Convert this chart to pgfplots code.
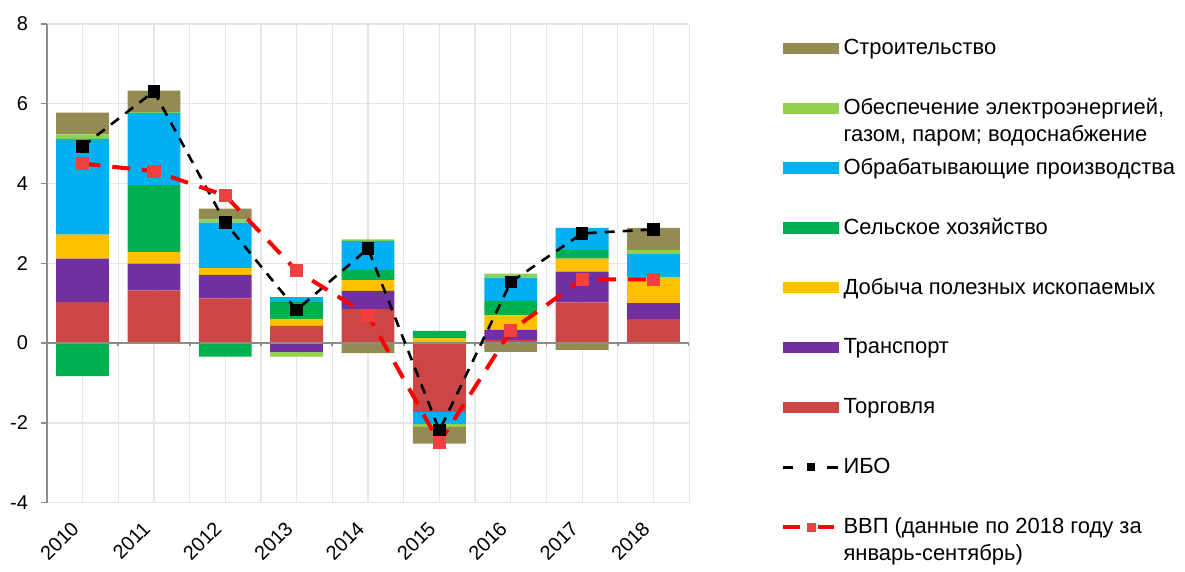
\documentclass[border=0pt]{standalone}
\usepackage{pgfplots}
\pgfplotsset{compat=1.18}
\usepackage{pgfplotstable}
\usepackage{fontspec}
\setmainfont{Liberation Sans}

\definecolor{cTrade}{HTML}{CC4646}
\definecolor{cTrans}{HTML}{7030A0}
\definecolor{cMin}{HTML}{FFC000}
\definecolor{cAgri}{HTML}{00B050}
\definecolor{cMan}{HTML}{00B0F0}
\definecolor{cElec}{HTML}{92D050}
\definecolor{cCon}{HTML}{948A54}
\definecolor{cGrid}{HTML}{E6E6E6}
\definecolor{cAxis}{HTML}{8C8C8C}
\definecolor{cGdp}{HTML}{FF0000}
\definecolor{cGdpMark}{HTML}{F04040}

% positive parts of each contribution
\pgfplotstableread{
year trade trans mining agri manuf elec constr
2010 1.03 1.09 0.60 0.00 2.40 0.11 0.55
2011 1.32 0.67 0.29 1.68 1.81 0.02 0.54
2012 1.12 0.59 0.17 0.00 1.14 0.08 0.27
2013 0.43 0.00 0.18 0.42 0.12 0.00 0.00
2014 0.85 0.46 0.27 0.25 0.73 0.04 0.00
2015 0.00 0.00 0.12 0.19 0.00 0.00 0.00
2016 0.08 0.25 0.38 0.35 0.58 0.10 0.00
2017 1.02 0.77 0.33 0.21 0.56 0.00 0.00
2018 0.60 0.40 0.66 0.00 0.58 0.09 0.56
}\tabpos

% negative parts (stacked separately, downward from zero)
\pgfplotstableread{
year trade trans agri manuf elec constr
2010 0.00 0.00 -0.83 0.00 0.00 0.00
2011 0.00 0.00 0.00 0.00 0.00 0.00
2012 0.00 0.00 -0.34 0.00 0.00 0.00
2013 0.00 -0.22 0.00 0.00 -0.12 0.00
2014 0.00 0.00 0.00 0.00 0.00 -0.25
2015 -1.73 0.00 0.00 -0.29 -0.08 -0.42
2016 0.00 0.00 0.00 0.00 0.00 -0.22
2017 0.00 0.00 0.00 0.00 0.00 -0.17
2018 0.00 0.00 -0.02 0.00 0.00 0.00
}\tabneg

\pgfplotstableread{
year ibo gdp
2010 4.93 4.50
2011 6.31 4.31
2012 3.02 3.70
2013 0.83 1.81
2014 2.37 0.70
2015 -2.19 -2.50
2016 1.53 0.31
2017 2.75 1.60
2018 2.85 1.60
}\tablines

\newcommand{\twolines}[2]{\raisebox{-3.9pt}[0pt][0pt]{\begin{tabular}[t]{@{}l@{}}#1\\#2\end{tabular}}}

\pgfplotsset{
  common/.style={
    width=322pt, height=240pt, scale only axis,
    xmin=2009.5, xmax=2018.5, ymin=-4, ymax=8,
  },
  iboline/.style={black, line width=1.3pt, dash pattern=on 5pt off 4pt,
    mark=square*, mark size=2.5pt, mark options={solid}},
  gdpline/.style={cGdp, line width=2pt, dash pattern=on 9pt off 6pt,
    mark=square*, mark size=2.3pt, mark options={solid, fill=cGdpMark, draw=cGdpMark}},
  barpart/.style={draw=none, fill=#1, forget plot},
  barlegend/.style={legend image code/.code={\fill[#1] (0pt,-2.6pt) rectangle (27.5pt,2.6pt);}},
}

\begin{document}
\begin{tikzpicture}
\path (-23.5pt,-30.5pt) rectangle (569pt,252pt);
\begin{axis}[
    common,
    ybar stacked, bar width=26.5pt,
    ytick={-4,-2,...,8},
    xtick={2010,...,2018},
    xticklabels={2010,2011,2012,2013,2014,2015,2016,2017,2018},
    minor xtick={2009.5,2010.5,...,2018.5},
    ymajorgrids, xmajorgrids, xminorgrids,
    grid style={cGrid, line width=0.6pt},
    minor grid style={cGrid, line width=0.6pt},
    axis y line*=left,
    x axis line style={draw=none},
    y axis line style={cAxis, line width=0.7pt},
    tick align=outside, major tick length=3pt,
    xtick style={draw=none},
    ytick style={cAxis, line width=0.7pt},
    ticklabel style={font=\fontsize{10}{12}\selectfont},
    /pgf/number format/assume math mode=true,
    yticklabel style={xshift=-3pt},
    xticklabel style={rotate=45, anchor=north east, xshift=-5pt, yshift=3.8pt},
    legend style={at={(1,1)}, anchor=north west, xshift=43pt, yshift=5pt,
      draw=none, fill=none, font=\fontsize{11}{13.5}\selectfont,
      cells={anchor=west, align=left}, row sep=0pt,
      nodes={minimum height=30pt}},
  ]
  \addlegendimage{barlegend=cCon}
  \addlegendentry{Строительство}
  \addlegendimage{barlegend=cElec}
  \addlegendentry{\twolines{Обеспечение электроэнергией,}{газом, паром; водоснабжение}}
  \addlegendimage{barlegend=cMan}
  \addlegendentry{Обрабатывающие производства}
  \addlegendimage{barlegend=cAgri}
  \addlegendentry{Сельское хозяйство}
  \addlegendimage{barlegend=cMin}
  \addlegendentry{Добыча полезных ископаемых}
  \addlegendimage{barlegend=cTrans}
  \addlegendentry{Транспорт}
  \addlegendimage{barlegend=cTrade}
  \addlegendentry{Торговля}
  \addlegendimage{legend image code/.code={
    \draw[black, line width=1.3pt] (0pt,0pt) -- (5pt,0pt) (22pt,0pt) -- (27.5pt,0pt);
    \fill[black] (12pt,-1.8pt) rectangle (15.6pt,1.8pt);}}
  \addlegendentry{ИБО}
  \addlegendimage{legend image code/.code={
    \draw[cGdp, line width=2pt] (0pt,0pt) -- (8.5pt,0pt) (17.5pt,0pt) -- (25.5pt,0pt);
    \fill[cGdpMark] (12pt,-2pt) rectangle (16pt,2pt);}}
  \addlegendentry{\twolines{ВВП (данные по 2018 году за}{январь-сентябрь)}}

  % negative parts
  \addplot[barpart=cTrade] table[x=year,y=trade] {\tabneg};
  \addplot[barpart=cTrans] table[x=year,y=trans] {\tabneg};
  \addplot[barpart=cAgri] table[x=year,y=agri] {\tabneg};
  \addplot[barpart=cMan] table[x=year,y=manuf] {\tabneg};
  \addplot[barpart=cElec] table[x=year,y=elec] {\tabneg};
  \addplot[barpart=cCon] table[x=year,y=constr] {\tabneg};
  % positive parts
  \addplot[barpart=cTrade] table[x=year,y=trade] {\tabpos};
  \addplot[barpart=cTrans] table[x=year,y=trans] {\tabpos};
  \addplot[barpart=cMin] table[x=year,y=mining] {\tabpos};
  \addplot[barpart=cAgri] table[x=year,y=agri] {\tabpos};
  \addplot[barpart=cMan] table[x=year,y=manuf] {\tabpos};
  \addplot[barpart=cElec] table[x=year,y=elec] {\tabpos};
  \addplot[barpart=cCon] table[x=year,y=constr] {\tabpos};
\end{axis}

\begin{axis}[common, hide axis]
  \draw[cAxis, line width=0.9pt] (axis cs:2009.5,0) -- (axis cs:2018.5,0);
  \pgfplotsinvokeforeach{2009.5,2010.5,2011.5,2012.5,2013.5,2014.5,2015.5,2016.5,2017.5,2018.5}{
    \draw[cAxis, line width=0.9pt] (axis cs:#1,0) -- (axis cs:#1,-0.08);
  }
  \addplot[iboline] table[x=year,y=ibo] {\tablines};
  \addplot[gdpline] table[x=year,y=gdp] {\tablines};
\end{axis}
\end{tikzpicture}
\end{document}
